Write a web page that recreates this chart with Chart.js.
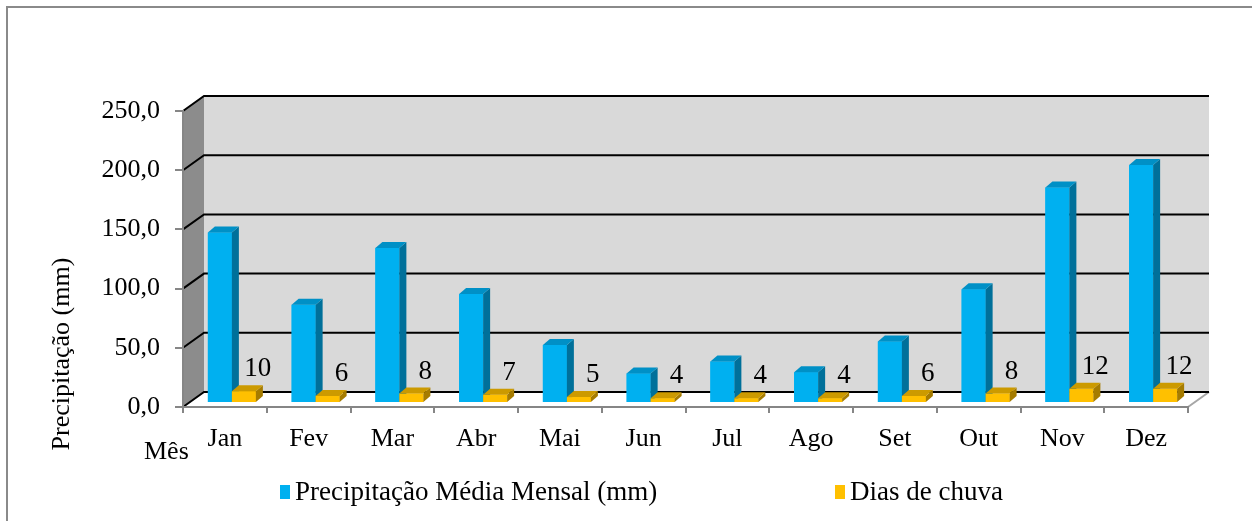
<!DOCTYPE html>
<html>
<head>
<meta charset="utf-8">
<script src="https://cdn.jsdelivr.net/npm/chart.js@4.4.1/dist/chart.umd.min.js"></script>
<style>
  body { margin: 0; background: #fff; }
  #wrap { width: 1252px; height: 521px; position: relative; }
</style>
</head>
<body>
<div id="wrap"><canvas id="chuvaChart"></canvas></div>
<script>
const months = ['Jan', 'Fev', 'Mar', 'Abr', 'Mai', 'Jun', 'Jul', 'Ago', 'Set', 'Out', 'Nov', 'Dez'];
const precipitacao = [144, 83, 131, 92, 49, 25, 35, 26, 52, 96, 182, 201];
const diasChuva = [10, 6, 8, 7, 5, 4, 4, 4, 6, 8, 12, 12];
const yTicks = [0, 50, 100, 150, 200, 250];
const seriesNames = ['Precipitação Média Mensal (mm)', 'Dias de chuva'];

const FONT = 'Liberation Serif';
Chart.defaults.font.family = FONT;
Chart.defaults.font.size = 26;
Chart.defaults.color = '#000';

// fake 3D: depth of the walls and of the columns
const WALL_DX = 21, WALL_DY = -15;
const BAR_DX = 7, BAR_DY = -6;
const SHIFT_X = 7, SHIFT_Y = -4;

const faces = [
    { front: '#00b0f0', side: '#00709a', top: '#0090c6' },
    { front: '#ffc000', side: '#a67c00', top: '#cc9a00' }
];

const fmt = v => v.toFixed(1).replace('.', ',');

const walls = {
    id: 'walls',
    beforeDraw(chart) {
        const { ctx, chartArea: a, scales: { y } } = chart;
        ctx.save();
        ctx.fillStyle = '#fff';
        ctx.fillRect(0, 0, chart.width, chart.height);

        // outer frame, cut by the picture on the right and bottom
        ctx.strokeStyle = '#8a8a8a';
        ctx.lineWidth = 2;
        ctx.strokeRect(7, 7, chart.width + 20, chart.height + 20);

        const L = a.left, R = a.right, T = a.top, B = a.bottom;

        // side wall
        ctx.fillStyle = '#8c8c8c';
        ctx.beginPath();
        ctx.moveTo(L, T); ctx.lineTo(L + WALL_DX, T + WALL_DY);
        ctx.lineTo(L + WALL_DX, B + WALL_DY); ctx.lineTo(L, B);
        ctx.closePath(); ctx.fill();

        // back wall
        ctx.fillStyle = '#d9d9d9';
        ctx.fillRect(L + WALL_DX, T + WALL_DY, R - L, B - T);

        // floor
        ctx.fillStyle = '#fff';
        ctx.beginPath();
        ctx.moveTo(L, B); ctx.lineTo(L + WALL_DX, B + WALL_DY);
        ctx.lineTo(R + WALL_DX, B + WALL_DY); ctx.lineTo(R, B);
        ctx.closePath(); ctx.fill();
        ctx.strokeStyle = '#a6a6a6';
        ctx.beginPath();
        ctx.moveTo(R, B); ctx.lineTo(R + WALL_DX, B + WALL_DY);
        ctx.stroke();

        // gridlines on side + back wall
        ctx.strokeStyle = '#000';
        ctx.lineWidth = 2;
        yTicks.forEach(v => {
            const py = y.getPixelForValue(v);
            ctx.beginPath();
            ctx.moveTo(L, py);
            ctx.lineTo(L + WALL_DX, py + WALL_DY);
            ctx.lineTo(R + WALL_DX, py + WALL_DY);
            ctx.stroke();
        });
        ctx.restore();
    }
};

const bars3d = {
    id: 'bars3d',
    beforeDatasetsDraw(chart) {
        chart.ctx.save();
        chart.ctx.translate(SHIFT_X, SHIFT_Y);
    },
    afterDatasetsDraw(chart) {
        const ctx = chart.ctx;
        const n = chart.data.labels.length;
        for (let i = 0; i < n; i++) {
            chart.data.datasets.forEach((ds, d) => {
                const el = chart.getDatasetMeta(d).data[i];
                const { x, y, base, width } = el.getProps(['x', 'y', 'base', 'width'], true);
                const l = x - width / 2, r = x + width / 2;
                const f = faces[d];
                ctx.fillStyle = f.front;
                ctx.fillRect(l, y, width, base - y);
                ctx.fillStyle = f.side;
                ctx.beginPath();
                ctx.moveTo(r, y); ctx.lineTo(r + BAR_DX, y + BAR_DY);
                ctx.lineTo(r + BAR_DX, base + BAR_DY); ctx.lineTo(r, base);
                ctx.closePath(); ctx.fill();
                ctx.fillStyle = f.top;
                ctx.beginPath();
                ctx.moveTo(l, y); ctx.lineTo(l + BAR_DX, y + BAR_DY);
                ctx.lineTo(r + BAR_DX, y + BAR_DY); ctx.lineTo(r, y);
                ctx.closePath(); ctx.fill();
            });
            // value label of the rainy days
            const el = chart.getDatasetMeta(1).data[i];
            ctx.fillStyle = '#000';
            ctx.font = '27px ' + FONT;
            ctx.textAlign = 'center';
            ctx.textBaseline = 'middle';
            ctx.fillText(String(chart.data.datasets[1].data[i]), el.x + 14, el.y - 22);
        }
        ctx.restore();
    },
    afterDraw(chart) {
        const ctx = chart.ctx;
        ctx.save();
        ctx.fillStyle = '#000';
        ctx.font = '26px ' + FONT;
        ctx.textBaseline = 'middle';

        // y title
        ctx.save();
        ctx.translate(62, 354);
        ctx.rotate(-Math.PI / 2);
        ctx.textAlign = 'center';
        ctx.fillText('Precipitação (mm)', 0, 0);
        ctx.restore();

        // x title
        ctx.textAlign = 'left';
        ctx.fillText('Mês', 144, 452);

        // legend
        ctx.font = '27px ' + FONT;
        const legendX = [280, 835];
        chart.data.datasets.forEach((ds, d) => {
            ctx.fillStyle = faces[d].front;
            ctx.fillRect(legendX[d], 485, 10, 14);
            ctx.fillStyle = '#000';
            ctx.fillText(ds.label, legendX[d] + 15, 493);
        });
        ctx.restore();
    }
};

new Chart(document.getElementById('chuvaChart'), {
    type: 'bar',
    data: {
        labels: months,
        datasets: [
            { label: seriesNames[0], data: precipitacao, backgroundColor: faces[0].front,
              categoryPercentage: 0.573, barPercentage: 1 },
            { label: seriesNames[1], data: diasChuva, backgroundColor: faces[1].front,
              categoryPercentage: 0.573, barPercentage: 1 }
        ]
    },
    options: {
        responsive: true,
        maintainAspectRatio: false,
        animation: false,
        layout: { padding: { top: 111, right: 64, left: 0, bottom: 0 } },
        plugins: {
            legend: { display: false },
            tooltip: { enabled: false }
        },
        scales: {
            x: {
                grid: { drawOnChartArea: false, offset: true, tickLength: 6, color: '#868686', lineWidth: 2 },
                border: { color: '#868686', width: 2 },
                ticks: { padding: 11, maxRotation: 0, autoSkip: false },
                afterFit: s => { s.height = 114; }
            },
            y: {
                min: 0,
                max: 250,
                grid: { drawOnChartArea: false, tickLength: 8, color: '#868686', lineWidth: 2 },
                border: { color: '#868686', width: 2 },
                ticks: {
                    stepSize: 50,
                    padding: 15,
                    callback: v => fmt(v)
                },
                afterFit: s => { s.width = 183; }
            }
        }
    },
    plugins: [walls, bars3d]
});
</script>
</body>
</html>
